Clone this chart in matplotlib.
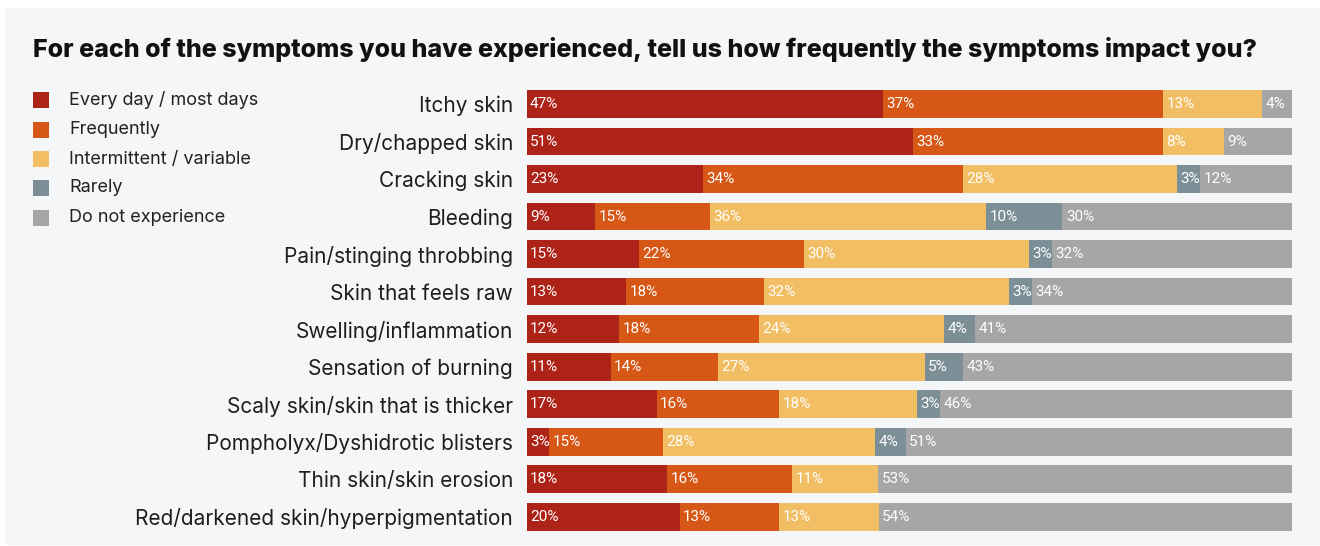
import matplotlib
matplotlib.use("Agg")
import matplotlib.pyplot as plt
from matplotlib.patches import Rectangle
import numpy as np

plt.rcParams['font.family'] = ['Inter', 'DejaVu Sans']

title = "For each of the symptoms you have experienced, tell us how frequently the symptoms impact you?"

symptoms = [
    "Itchy skin",
    "Dry/chapped skin",
    "Cracking skin",
    "Bleeding",
    "Pain/stinging throbbing",
    "Skin that feels raw",
    "Swelling/inflammation",
    "Sensation of burning",
    "Scaly skin/skin that is thicker",
    "Pompholyx/Dyshidrotic blisters",
    "Thin skin/skin erosion",
    "Red/darkened skin/hyperpigmentation",
]

series_names = ["Every day / most days", "Frequently", "Intermittent / variable",
                "Rarely", "Do not experience"]

every_day = [47, 51, 23, 9, 15, 13, 12, 11, 17, 3, 18, 20]
frequently = [37, 33, 34, 15, 22, 18, 18, 14, 16, 15, 16, 13]
intermittent = [13, 8, 28, 36, 30, 32, 24, 27, 18, 28, 11, 13]
rarely = [0, 0, 3, 10, 3, 3, 4, 5, 3, 4, 0, 0]
not_experienced = [4, 9, 12, 30, 32, 34, 41, 43, 46, 51, 53, 54]

colors = ["#AE2318", "#D65716", "#F2BE63", "#7C8F96", "#A6A6A6"]
bg = "#F5F6F8"

series = np.array([every_day, frequently, intermittent, rarely, not_experienced], dtype=float)
shares = series / series.sum(axis=0)

W, H = 1320, 546
fig = plt.figure(figsize=(W / 100, H / 100), dpi=100, facecolor="white")

# light panel behind everything
fig.patches.append(Rectangle((5 / W, 1 - 545 / H), (W - 5) / W, (545 - 8) / H,
                             transform=fig.transFigure, facecolor=bg,
                             edgecolor="none", zorder=-10))

fig.text(33 / W, 1 - 50 / H, title, fontsize=18, fontweight=800,
         color="#111111", va="center", ha="left")

pitch = 37.52
top_c = 104.0
ax_top = top_c - pitch / 2
ax_bot = top_c + 11 * pitch + pitch / 2
ax = fig.add_axes([526.6 / W, 1 - ax_bot / H, (1292 - 526.6) / W, (ax_bot - ax_top) / H])
ax.set_facecolor("none")

y = np.arange(len(symptoms))
left = np.zeros(len(symptoms))
for k in range(len(series_names)):
    ax.barh(y, shares[k], left=left, height=0.74, color=colors[k], edgecolor="none")
    for i in range(len(symptoms)):
        v = series[k, i]
        if v > 0:
            ax.text(left[i] + 0.0045, y[i], f"{int(v)}%", color="white",
                    fontsize=11, va="center", ha="left",
                    family=["Roboto", "DejaVu Sans"])
    left += shares[k]

ax.set_xlim(0, 1)
ax.set_ylim(len(symptoms) - 0.5, -0.5)
ax.set_yticks(y)
ax.set_yticklabels(symptoms, fontsize=15, color="#1E1E1E")
ax.tick_params(axis="y", length=0, pad=9.8)
ax.set_xticks([])
for s in ax.spines.values():
    s.set_visible(False)

# legend
leg_y = [100, 129.5, 159, 188, 217.5]
for name, c, ly in zip(series_names, colors, leg_y):
    fig.patches.append(Rectangle((33 / W, 1 - (ly + 8) / H), 16 / W, 16 / H,
                                 transform=fig.transFigure, facecolor=c,
                                 edgecolor="none", zorder=2))
    fig.text(69 / W, 1 - ly / H, name, fontsize=13, color="#222222",
             va="center", ha="left")

fig.savefig("out.png", dpi=100, facecolor="white")
